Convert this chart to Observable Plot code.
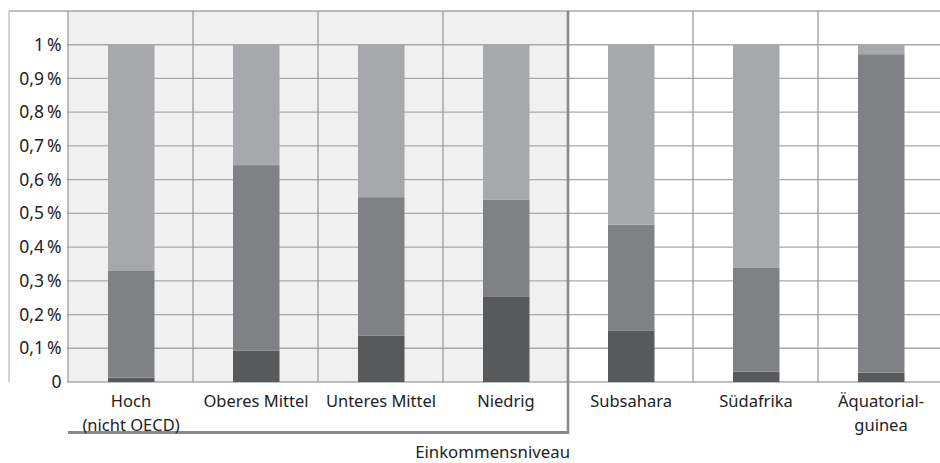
<!DOCTYPE html>
<html><head><meta charset="utf-8">
<script src="https://cdn.jsdelivr.net/npm/d3@7"></script>
<script src="https://cdn.jsdelivr.net/npm/@observablehq/plot@0.6"></script>
<style>html,body{margin:0;padding:0;background:#fff;} svg{display:block}</style>
</head><body><div id="chart"></div>
<script>
const categories = ["Hoch\n(nicht OECD)", "Oberes Mittel", "Unteres Mittel", "Niedrig", "Subsahara", "Südafrika", "Äquatorial-\nguinea"];
const incomeGroup = ["Hoch\n(nicht OECD)", "Oberes Mittel", "Unteres Mittel", "Niedrig"];
const groupLabel = "Einkommensniveau";
const partDark  = [0.013, 0.093, 0.138, 0.254, 0.153, 0.031, 0.028];
const partMid   = [0.318, 0.550, 0.410, 0.286, 0.314, 0.309, 0.944];
const partLight = [0.669, 0.357, 0.452, 0.460, 0.533, 0.660, 0.028];
const parts = ["dunkel", "mittel", "hell"];
const partColors = ["#58595b", "#808184", "#a7a8ab"];
const yTicks = [0, 0.1, 0.2, 0.3, 0.4, 0.5, 0.6, 0.7, 0.8, 0.9, 1];
const yMax = 1.1;

const rows = [];
categories.forEach((c, i) => {
  rows.push({category: c, part: parts[0], value: partDark[i]});
  rows.push({category: c, part: parts[1], value: partMid[i]});
  rows.push({category: c, part: parts[2], value: partLight[i]});
});

const fmt = d => d === 0 ? "0" : String(d).replace(".", ",") + "\u2009%";

function structure(index, scales, values, dims) {
  const x = scales.x, y = scales.y;
  const g = d3.create("svg:g");
  const top = y(yMax), bot = y(0);
  const left = dims.marginLeft, right = dims.width;
  for (const t of yTicks) {
    g.append("line").attr("x1", left).attr("x2", right).attr("y1", y(t)).attr("y2", y(t))
      .attr("stroke", "#a9a9a9").attr("stroke-width", 1.3);
  }
  g.append("line").attr("x1", 9).attr("x2", right).attr("y1", top).attr("y2", top)
    .attr("stroke", "#a9a9a9").attr("stroke-width", 1.5);
  g.append("line").attr("x1", 9).attr("x2", 9).attr("y1", top).attr("y2", bot)
    .attr("stroke", "#bdbdbd").attr("stroke-width", 1.3);
  for (const c of categories) {
    g.append("line").attr("x1", x(c)).attr("x2", x(c)).attr("y1", top).attr("y2", bot)
      .attr("stroke", "#9c9c9c").attr("stroke-width", 1.3);
  }
  return g.node();
}

function bracket(index, scales, values, dims) {
  const x = scales.x, y = scales.y;
  const bw = typeof x.bandwidth === "function" ? x.bandwidth() : x.bandwidth;
  const g = d3.create("svg:g");
  const xl = x(incomeGroup[0]);
  const xr = x(incomeGroup[incomeGroup.length - 1]) + bw;
  const top = y(yMax), bot = y(0);
  const by = bot + 50.5;
  g.append("line").attr("x1", xr).attr("x2", xr).attr("y1", top).attr("y2", by + 1.5)
    .attr("stroke", "#8a8a8a").attr("stroke-width", 2.6);
  g.append("line").attr("x1", xl).attr("x2", xr).attr("y1", by).attr("y2", by)
    .attr("stroke", "#8a8a8a").attr("stroke-width", 2.8);
  g.append("text").attr("x", xr + 2).attr("y", dims.height - 5).attr("text-anchor", "end")
    .attr("font-size", 16.8).attr("fill", "#222").text(groupLabel);
  return g.node();
}

const plot = Plot.plot({
  width: 940,
  height: 463,
  marginTop: 11,
  marginBottom: 81,
  marginLeft: 67,
  marginRight: 0,
  style: {fontFamily: "'Noto Sans', sans-serif", fontSize: "16px", color: "#222", background: "#fff"},
  x: {domain: categories, range: [67, 944], padding: 0, label: null},
  y: {domain: [0, yMax], label: null},
  color: {domain: parts, range: partColors},
  marks: [
    Plot.barY(incomeGroup, {x: d => d, y1: 0, y2: yMax, fill: "#f0f0f0"}),
    structure,
    Plot.barY(rows, {x: "category", y: "value", fill: "part", insetLeft: 40, insetRight: 38.5}),
    bracket,
    Plot.axisY(yTicks, {tickSize: 0, tickPadding: 6, tickFormat: fmt, fill: "#222", fontSize: 17.5}),
    Plot.axisX({tickSize: 0, tickPadding: 8, lineHeight: 1.42, fill: "#222", fontSize: 16.5})
  ]
});
document.getElementById("chart").appendChild(plot);
</script>
</body></html>
